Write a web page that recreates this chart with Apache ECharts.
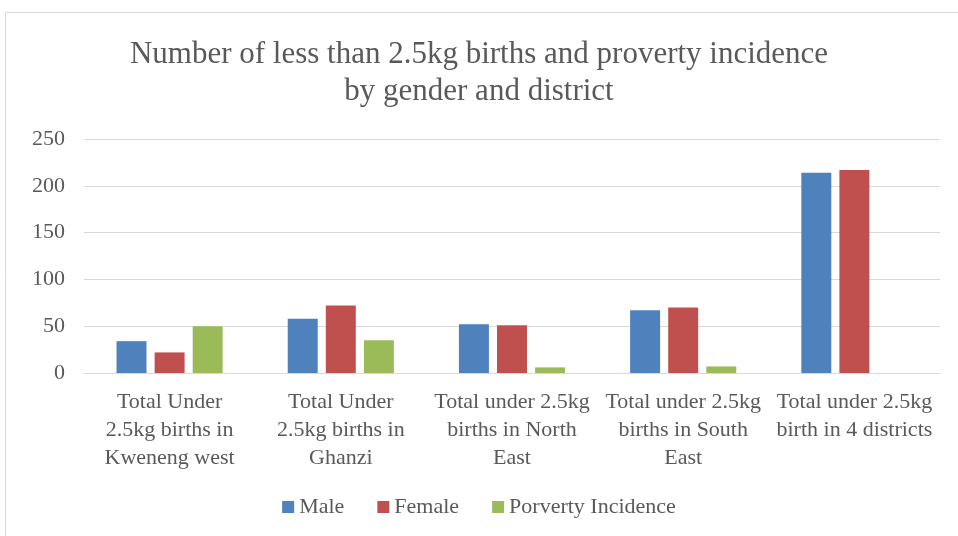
<!DOCTYPE html>
<html>
<head>
<meta charset="utf-8">
<script src="https://cdn.jsdelivr.net/npm/echarts@6/dist/echarts.min.js"></script>
<style>
  html, body { margin: 0; padding: 0; background: #fff; }
  #chart { width: 958px; height: 536px; }
</style>
</head>
<body>
<div id="chart"></div>
<script>
var categories = [
  'Total Under\n2.5kg births in\nKweneng west',
  'Total Under\n2.5kg births in\nGhanzi',
  'Total under 2.5kg\nbirths in North\nEast',
  'Total under 2.5kg\nbirths in South\nEast',
  'Total under 2.5kg\nbirth in 4 districts'
];
var maleData = [34, 58, 52, 67, 214];
var femaleData = [22, 72, 51, 70, 217];
var povertyData = [50, 35, 6, 7, null];
var yTicks = [0, 50, 100, 150, 200, 250];

var myChart = echarts.init(document.getElementById('chart'));
var font = '"Liberation Serif", "Times New Roman", serif';

var option = {
  backgroundColor: '#fff',
  animation: false,
  textStyle: { fontFamily: font },
  graphic: [{
    type: 'rect',
    shape: { x: 5.5, y: 12.5, width: 960, height: 540 },
    style: { fill: 'none', stroke: '#d9d9d9', lineWidth: 1 }
  }],
  title: {
    text: 'Number of less than 2.5kg births and proverty incidence\nby gender and district',
    left: 'center',
    top: 31,
    textStyle: {
      fontFamily: font,
      fontSize: 31,
      fontWeight: 'normal',
      color: '#595959',
      lineHeight: 37
    }
  },
  legend: {
    bottom: 13,
    left: 'center',
    itemWidth: 12,
    itemHeight: 12,
    itemGap: 33,
    icon: 'rect',
    textStyle: { fontFamily: font, fontSize: 22, color: '#595959' },
    data: ['Male', 'Female', 'Porverty Incidence']
  },
  grid: {
    left: 84,
    right: 18,
    top: 139,
    bottom: 163,
    containLabel: false
  },
  xAxis: {
    type: 'category',
    data: categories,
    axisTick: { show: false },
    axisLine: { lineStyle: { color: '#d9d9d9', width: 1 } },
    axisLabel: {
      interval: 0,
      margin: 15,
      fontFamily: font,
      fontSize: 22,
      lineHeight: 28,
      color: '#595959'
    }
  },
  yAxis: {
    type: 'value',
    min: yTicks[0],
    max: yTicks[yTicks.length - 1],
    interval: 50,
    axisLine: { show: false },
    axisTick: { show: false },
    splitLine: { lineStyle: { color: '#d9d9d9', width: 1 } },
    axisLabel: {
      margin: 19,
      fontFamily: font,
      fontSize: 22,
      color: '#595959'
    }
  },
  series: [{
    name: 'Male',
    type: 'bar',
    data: maleData,
    barGap: '27%',
    barCategoryGap: '38%',
    itemStyle: { color: '#4f81bd' }
  }, {
    name: 'Female',
    type: 'bar',
    data: femaleData,
    itemStyle: { color: '#c0504d' }
  }, {
    name: 'Porverty Incidence',
    type: 'bar',
    data: povertyData,
    itemStyle: { color: '#9bbb59' }
  }]
};

myChart.setOption(option);

window.addEventListener('resize', function () {
  myChart.resize();
});
</script>
</body>
</html>
